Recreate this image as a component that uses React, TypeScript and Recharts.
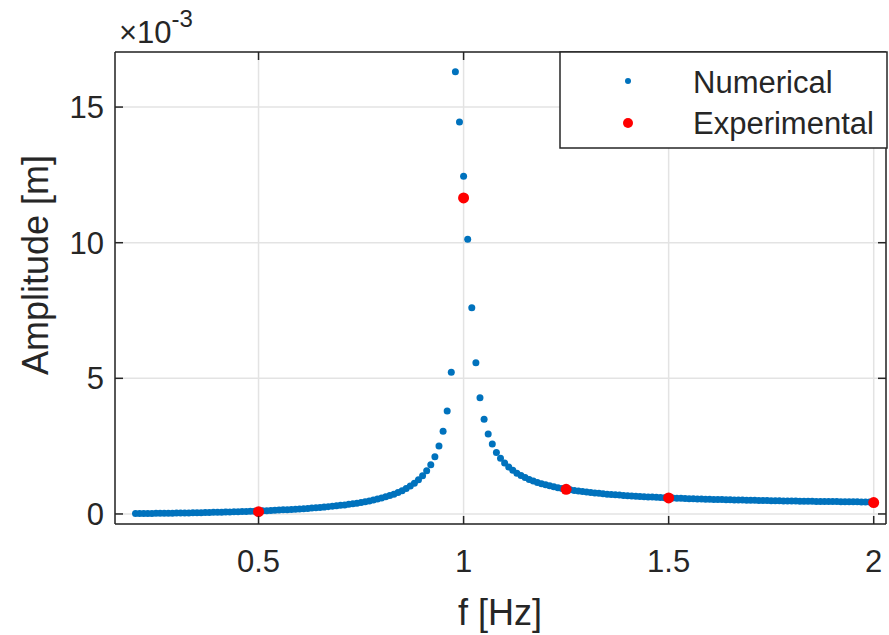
import { ScatterChart, Scatter, XAxis, YAxis, CartesianGrid } from "recharts"

// frequency sweep of the numerical model [Hz]
const freqHz = [
  0.2, 0.21, 0.22, 0.23, 0.24, 0.25, 0.26, 0.27, 0.28, 0.29,
  0.3, 0.31, 0.32, 0.33, 0.34, 0.35, 0.36, 0.37, 0.38, 0.39,
  0.4, 0.41, 0.42, 0.43, 0.44, 0.45, 0.46, 0.47, 0.48, 0.49,
  0.5, 0.51, 0.52, 0.53, 0.54, 0.55, 0.56, 0.57, 0.58, 0.59,
  0.6, 0.61, 0.62, 0.63, 0.64, 0.65, 0.66, 0.67, 0.68, 0.69,
  0.7, 0.71, 0.72, 0.73, 0.74, 0.75, 0.76, 0.77, 0.78, 0.79,
  0.8, 0.81, 0.82, 0.83, 0.84, 0.85, 0.86, 0.87, 0.88, 0.89,
  0.9, 0.91, 0.92, 0.93, 0.94, 0.95, 0.96, 0.97, 0.98, 0.99,
  1.0, 1.01, 1.02, 1.03, 1.04, 1.05, 1.06, 1.07, 1.08, 1.09,
  1.1, 1.11, 1.12, 1.13, 1.14, 1.15, 1.16, 1.17, 1.18, 1.19,
  1.2, 1.21, 1.22, 1.23, 1.24, 1.25, 1.26, 1.27, 1.28, 1.29,
  1.3, 1.31, 1.32, 1.33, 1.34, 1.35, 1.36, 1.37, 1.38, 1.39,
  1.4, 1.41, 1.42, 1.43, 1.44, 1.45, 1.46, 1.47, 1.48, 1.49,
  1.5, 1.51, 1.52, 1.53, 1.54, 1.55, 1.56, 1.57, 1.58, 1.59,
  1.6, 1.61, 1.62, 1.63, 1.64, 1.65, 1.66, 1.67, 1.68, 1.69,
  1.7, 1.71, 1.72, 1.73, 1.74, 1.75, 1.76, 1.77, 1.78, 1.79,
  1.8, 1.81, 1.82, 1.83, 1.84, 1.85, 1.86, 1.87, 1.88, 1.89,
  1.9, 1.91, 1.92, 1.93, 1.94, 1.95, 1.96, 1.97, 1.98, 1.99,
  2.0,
]

// numerical amplitude, x10^-3 m
const numericalAmp = [
  0.014, 0.015, 0.017, 0.018, 0.02, 0.022, 0.024, 0.026, 0.028, 0.03,
  0.033, 0.035, 0.038, 0.04, 0.043, 0.046, 0.049, 0.052, 0.056, 0.059,
  0.063, 0.067, 0.071, 0.075, 0.079, 0.084, 0.089, 0.094, 0.099, 0.104,
  0.11, 0.116, 0.122, 0.129, 0.136, 0.143, 0.151, 0.159, 0.167, 0.176,
  0.186, 0.196, 0.206, 0.217, 0.229, 0.241, 0.255, 0.269, 0.284, 0.3,
  0.317, 0.335, 0.355, 0.377, 0.399, 0.424, 0.451, 0.481, 0.513, 0.548,
  0.587, 0.63, 0.677, 0.731, 0.791, 0.859, 0.937, 1.028, 1.133, 1.257,
  1.407, 1.59, 1.818, 2.113, 2.505, 3.05, 3.8, 5.22, 16.3, 14.45,
  12.45, 10.13, 7.6, 5.57, 4.28, 3.49, 2.95, 2.58, 2.27, 2.05,
  1.88, 1.73, 1.61, 1.5, 1.42, 1.34, 1.275, 1.215, 1.163, 1.116,
  1.074, 1.036, 1.001, 0.969, 0.94, 0.913, 0.892, 0.868, 0.847, 0.827,
  0.808, 0.791, 0.775, 0.759, 0.745, 0.731, 0.718, 0.706, 0.695, 0.684,
  0.674, 0.664, 0.655, 0.646, 0.637, 0.629, 0.622, 0.614, 0.607, 0.601,
  0.594, 0.588, 0.582, 0.576, 0.571, 0.565, 0.56, 0.555, 0.551, 0.546,
  0.542, 0.537, 0.533, 0.529, 0.525, 0.522, 0.518, 0.515, 0.511, 0.508,
  0.505, 0.502, 0.499, 0.496, 0.493, 0.49, 0.487, 0.485, 0.482, 0.48,
  0.477, 0.475, 0.473, 0.471, 0.468, 0.466, 0.464, 0.462, 0.46, 0.458,
  0.456, 0.455, 0.453, 0.451, 0.449, 0.448, 0.446, 0.445, 0.443, 0.442,
  0.44,
]

const expFreq = [0.5, 1.0, 1.25, 1.5, 2.0]
const expAmp = [0.085, 11.65, 0.91, 0.59, 0.42]

const xTicks = [0.5, 1, 1.5, 2]
const yTicks = [0, 5, 10, 15]

const numData = freqHz.map((f, i) => ({ f, a: numericalAmp[i] }))
const expData = expFreq.map((f, i) => ({ f, a: expAmp[i] }))

const AXIS = "#262626"
const BLUE = "#0072BD"
const RED = "#FF0000"
const FONT = '"Liberation Sans", Arial, Helvetica, sans-serif'
const TICK_LEN = 8

function BottomTick({ x, y, payload }: any) {
  return (
    <g>
      <line x1={x} x2={x} y1={y} y2={y - TICK_LEN} stroke={AXIS} strokeWidth={1.5} />
      <text x={x} y={y + 48} textAnchor="middle" fontSize={31} fontFamily={FONT} fill={AXIS}>
        {payload.value}
      </text>
    </g>
  )
}

function TopTick({ x, y }: any) {
  return <line x1={x} x2={x} y1={y} y2={y + TICK_LEN} stroke={AXIS} strokeWidth={1.5} />
}

function LeftTick({ x, y, payload }: any) {
  return (
    <g>
      <line x1={x} x2={x + TICK_LEN} y1={y} y2={y} stroke={AXIS} strokeWidth={1.5} />
      <text x={x - 11} y={y + 11} textAnchor="end" fontSize={31} fontFamily={FONT} fill={AXIS}>
        {payload.value}
      </text>
    </g>
  )
}

function RightTick({ x, y }: any) {
  return <line x1={x} x2={x - TICK_LEN} y1={y} y2={y} stroke={AXIS} strokeWidth={1.5} />
}

const blueDot = (p: any) => <circle cx={p.cx} cy={p.cy} r={3.5} fill={BLUE} />
const redDot = (p: any) => <circle cx={p.cx} cy={p.cy} r={5.5} fill={RED} />

export default function App() {
  return (
    <div style={{ position: "absolute", left: 0, top: 0, width: 889, height: 635, background: "#fff" }}>
      <ScatterChart width={889} height={635} margin={{ top: 0, right: 0, bottom: 0, left: 0 }}>
        <CartesianGrid stroke="#e3e3e3" strokeWidth={1.5} />
        <XAxis
          dataKey="f"
          type="number"
          domain={[0.15, 2.03]}
          allowDataOverflow
          ticks={xTicks}
          height={111}
          tickSize={0}
          tickMargin={0}
          tickLine={false}
          tick={BottomTick}
          axisLine={{ stroke: AXIS, strokeWidth: 1.5 }}
        />
        <XAxis
          xAxisId="top"
          orientation="top"
          dataKey="f"
          type="number"
          domain={[0.15, 2.03]}
          allowDataOverflow
          ticks={xTicks}
          height={52}
          tickSize={0}
          tickMargin={0}
          tickLine={false}
          tick={TopTick}
          axisLine={{ stroke: AXIS, strokeWidth: 1.5 }}
        />
        <YAxis
          dataKey="a"
          type="number"
          domain={[-0.37, 17.03]}
          allowDataOverflow
          ticks={yTicks}
          width={115}
          tickSize={0}
          tickMargin={0}
          tickLine={false}
          tick={LeftTick}
          axisLine={{ stroke: AXIS, strokeWidth: 1.5 }}
        />
        <YAxis
          yAxisId="right"
          orientation="right"
          dataKey="a"
          type="number"
          domain={[-0.37, 17.03]}
          allowDataOverflow
          ticks={yTicks}
          width={3}
          tickSize={0}
          tickMargin={0}
          tickLine={false}
          tick={RightTick}
          axisLine={{ stroke: AXIS, strokeWidth: 1.5 }}
        />
        <Scatter name="Numerical" data={numData} shape={blueDot} isAnimationActive={false} />
        <Scatter
          name="Experimental"
          data={expData}
          xAxisId="top"
          yAxisId="right"
          shape={redDot}
          isAnimationActive={false}
        />
      </ScatterChart>

      {/* exponent, axis titles and legend box */}
      <svg width={889} height={635} style={{ position: "absolute", left: 0, top: 0, pointerEvents: "none" }}>
        <text x={119} y={43} fontSize={31} fontFamily={FONT} fill={AXIS}>
          ×10
          <tspan fontSize={24} dy={-16}>-3</tspan>
        </text>
        <text x={500} y={625} textAnchor="middle" fontSize={36} fontFamily={FONT} fill={AXIS}>
          f [Hz]
        </text>
        <text
          transform="translate(48 265) rotate(-90)"
          textAnchor="middle"
          fontSize={36}
          fontFamily={FONT}
          fill={AXIS}
        >
          Amplitude [m]
        </text>
        <rect x={560} y={52} width={327} height={96} fill="#fff" stroke={AXIS} strokeWidth={1.5} />
        <circle cx={628} cy={81} r={3} fill={BLUE} />
        <circle cx={628} cy={123} r={5} fill={RED} />
        <text x={693} y={93} fontSize={31} fontFamily={FONT} fill={AXIS}>Numerical</text>
        <text x={693} y={134} fontSize={31} fontFamily={FONT} fill={AXIS}>Experimental</text>
      </svg>
    </div>
  )
}
